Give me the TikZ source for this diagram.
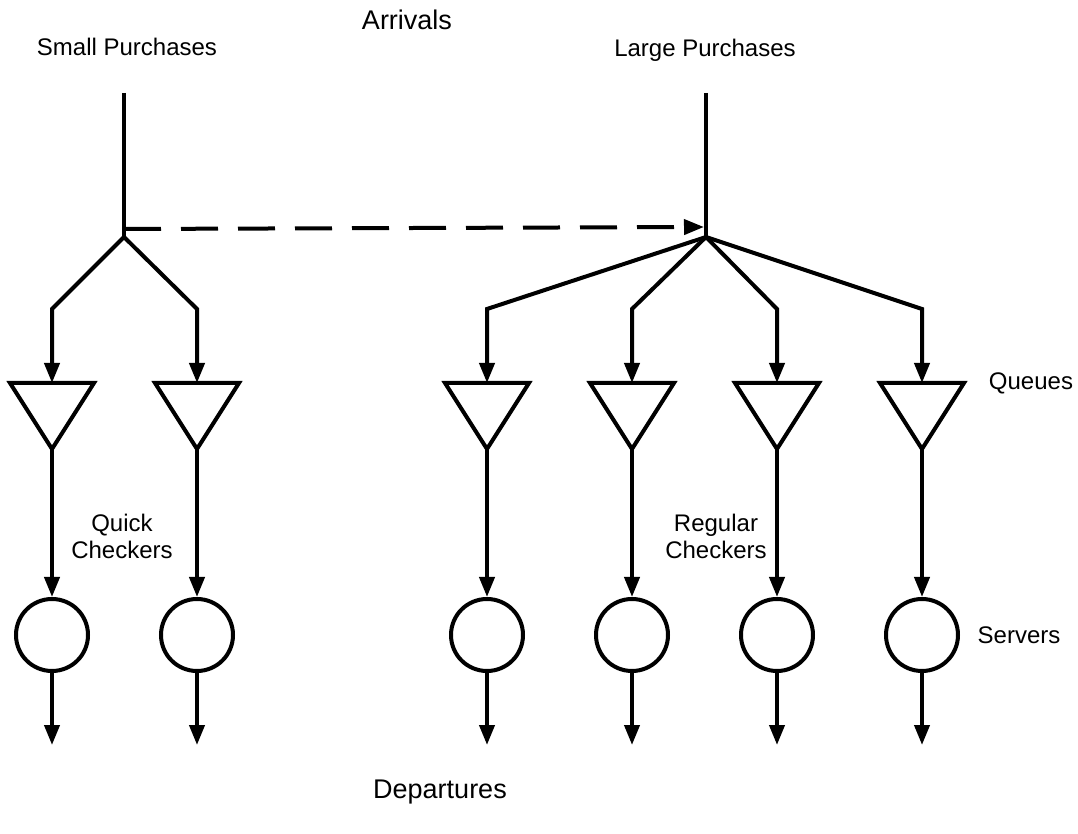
\documentclass[tikz,border=0pt]{standalone}
\usepackage{fontspec}
\setmainfont{Liberation Sans}
\usetikzlibrary{arrows.meta}
\begin{document}
\begin{tikzpicture}[
  x=0.5pt, y=-0.5pt,
  line width=2pt,
  >={Triangle[length=10pt,width=7.5pt]},
  server/.style={circle, draw, minimum size=36pt, inner sep=0pt},
  lbl/.style={font=\fontsize{12}{13.5}\selectfont, align=center, inner sep=0pt},
  head/.style={font=\fontsize{13.5}{16}\selectfont, inner sep=0pt},
  jump/.style={->, dash pattern=on 18.5pt off 10pt},
]
\useasboundingbox (0,0) rectangle (1078,834);

% headings and labels
\node[head] (arr) at (407,20) {Arrivals};
\node[lbl] (small) at (127,47) {Small Purchases};
\node[lbl] (large) at (705,50) {Large Purchases};
\node[lbl] (queues) at (1031,383) {Queues};
\node[lbl] (quick) at (122,536) {Quick\\Checkers};
\node[lbl] (regular) at (716,536) {Regular\\Checkers};
\node[lbl] (servers) at (1019,635) {Servers};
\node[head] (dep) at (440,792) {Departures};

% arrival streams and their split points
\coordinate (sIn) at (124,93);
\coordinate (sSplit) at (124,237);
\coordinate (sJump) at (124,229);
\coordinate (lIn) at (706,93);
\coordinate (lSplit) at (706,237);
\coordinate (lJump) at (704,227);
\draw (sIn) -- (sSplit);
\draw (lIn) -- (lSplit);
\draw[jump] (sJump) -- (lJump);

% queue (triangle), server (circle) and departure for each checker
\foreach \n/\x in {q1/52, q2/197, r1/487, r2/632, r3/777, r4/922} {
  \coordinate (\n top) at (\x,383);
  \coordinate (\n tip) at (\x,449);
  \coordinate (\n bend) at (\x,309);
  \draw[line join=miter] (\x-42,383) -- (\x+42,383) -- (\n tip) -- cycle;
  \node[server] (\n srv) at (\x,635) {};
  \coordinate (\n out) at (\x,745);
  \draw[->] (\n tip) -- (\n srv);
  \draw[->] (\n srv) -- (\n out);
}

% routing from the split points into the queues
\foreach \n in {q1, q2}
  \draw[->, line join=miter] (sSplit) -- (\n bend) -- (\n top);
\foreach \n in {r1, r2, r3, r4}
  \draw[->, line join=miter] (lSplit) -- (\n bend) -- (\n top);
\end{tikzpicture}
\end{document}
